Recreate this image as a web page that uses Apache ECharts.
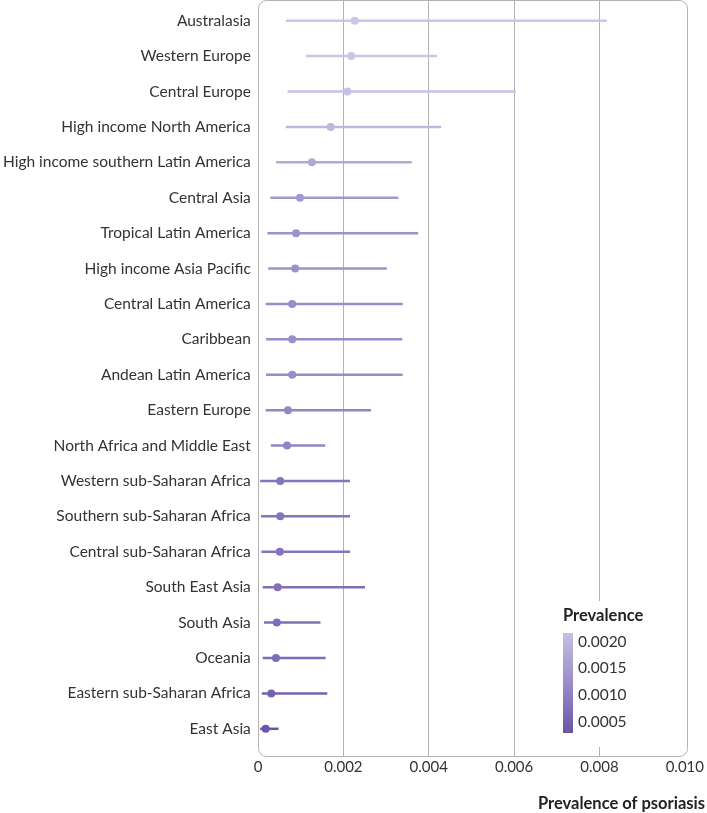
<!DOCTYPE html>
<html>
<head>
<meta charset="utf-8">
<script src="https://cdn.jsdelivr.net/npm/echarts@6/dist/echarts.min.js"></script>
<style>html,body{margin:0;padding:0;background:#fff}#c{width:707px;height:813px}</style>
</head>
<body>
<div id="c"></div>
<script>
const regions = ["Australasia","Western Europe","Central Europe","High income North America","High income southern Latin America","Central Asia","Tropical Latin America","High income Asia Pacific","Central Latin America","Caribbean","Andean Latin America","Eastern Europe","North Africa and Middle East","Western sub-Saharan Africa","Southern sub-Saharan Africa","Central sub-Saharan Africa","South East Asia","South Asia","Oceania","Eastern sub-Saharan Africa","East Asia"];
const prevalence = [0.00224,0.00216,0.00207,0.00168,0.00124,0.00096,0.00087,0.00085,0.00078,0.00078,0.00078,0.00068,0.00066,0.00050,0.00050,0.00049,0.00044,0.00042,0.00040,0.00029,0.00016];
const lower = [0.00063,0.00110,0.00067,0.00063,0.00040,0.00027,0.00020,0.00022,0.00016,0.00017,0.00017,0.00016,0.00028,0.00003,0.00005,0.00006,0.00009,0.00012,0.00009,0.00007,0.00003];
const upper = [0.00813,0.00416,0.00600,0.00426,0.00357,0.00326,0.00372,0.00299,0.00336,0.00335,0.00336,0.00262,0.00155,0.00213,0.00213,0.00213,0.00248,0.00144,0.00156,0.00160,0.00046];
const xTicks = [0,0.002,0.004,0.006,0.008,0.010];
const legendTicks = ["0.0020","0.0015","0.0010","0.0005"];

const FONT = "Lato";
const chart = echarts.init(document.getElementById('c'), null, {renderer:'canvas'});
const data = regions.map((r,i)=>[lower[i], upper[i], prevalence[i], i]);

const legendLabels = legendTicks.map((t,i)=>({
  type:'text', left:578, top:633.5+i*26.7, z:6,
  style:{text:t, font:'15.5px '+FONT, fill:'#333'}
}));

chart.setOption({
  animation:false,
  grid:[
    {left:258, right:20, top:3, bottom:66.5},
    {left:258, right:20, top:1, bottom:56.5}
  ],
  xAxis:[
    {gridIndex:0, type:'value', min:xTicks[0], max:xTicks[xTicks.length-1], interval:0.002, show:false},
    {gridIndex:1, type:'value', min:xTicks[0], max:xTicks[xTicks.length-1], interval:0.002,
     axisLine:{show:false}, axisTick:{show:false},
     axisLabel:{margin:3, fontFamily:FONT, fontSize:15, color:'#333',
       formatter:v=> v===0 ? '0' : v.toFixed(3)},
     splitLine:{show:true, showMinLine:false, showMaxLine:false, lineStyle:{color:'#b3b3b3', width:1}}}
  ],
  yAxis:[
    {gridIndex:0, type:'category', data:regions, inverse:true,
     axisLine:{show:false}, axisTick:{show:false}, splitLine:{show:false},
     axisLabel:{margin:8, fontFamily:FONT, fontSize:15.5, color:'#333'}},
    {gridIndex:1, type:'value', show:false, min:0, max:1}
  ],
  visualMap:{
    show:false, type:'continuous', seriesIndex:0, dimension:2,
    min:0.00016, max:0.00224,
    inRange:{color:['#6a55a8','#9486c6','#b1a8d8','#c0b8de','#ccc6e6']}
  },
  series:[{
    type:'custom', xAxisIndex:0, yAxisIndex:0, data:data,
    encode:{x:[0,1,2], y:3},
    renderItem:(params, api)=>{
      const y = api.value(3);
      const lo = api.coord([api.value(0), y]);
      const hi = api.coord([api.value(1), y]);
      const pt = api.coord([api.value(2), y]);
      const col = api.visual('color');
      return {type:'group', children:[
        {type:'line', shape:{x1:lo[0], y1:lo[1], x2:hi[0], y2:hi[1]}, style:{stroke:col, lineWidth:2.5}},
        {type:'circle', shape:{cx:pt[0], cy:pt[1], r:4}, style:{fill:col}}
      ]};
    }
  }],
  graphic:[
    {type:'rect', shape:{x:258.5, y:0.5, width:429, height:756, r:8}, style:{fill:'none', stroke:'#b3b3b3', lineWidth:1}, z:10},
    {type:'rect', shape:{x:556, y:601, width:94, height:146}, style:{fill:'#fff'}, z:5},
    {type:'text', left:563, top:607, style:{text:'Prevalence', font:'bold 16.5px '+FONT, fill:'#222'}, z:6},
    {type:'rect', shape:{x:563, y:633, width:10, height:100},
     style:{fill:new echarts.graphic.LinearGradient(0,0,0,1,[{offset:0,color:'#c6bfe1'},{offset:0.5,color:'#9a8dc9'},{offset:1,color:'#6a55a6'}])}, z:6},
    ...legendLabels,
    {type:'text', right:2, top:795, style:{text:'Prevalence of psoriasis', font:'bold 16.5px '+FONT, fill:'#222'}}
  ]
});
</script>
</body>
</html>
